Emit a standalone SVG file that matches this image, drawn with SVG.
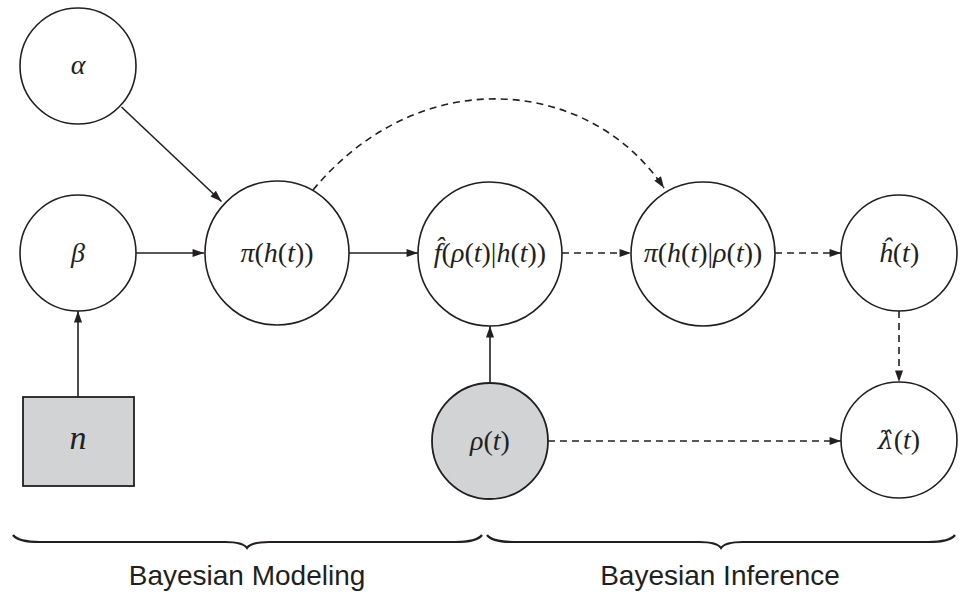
<svg xmlns="http://www.w3.org/2000/svg" width="960" height="594" viewBox="0 0 960 594">
<defs>
<style>
.n{fill:#ffffff;stroke:#231f20;stroke-width:1.6}
.g{fill:#d1d3d4;stroke:#231f20;stroke-width:1.8}
.m{font-family:"Liberation Serif","DejaVu Serif",serif;font-size:28px;fill:#231f20;text-anchor:middle}
.i{font-style:italic}
.dj{font-family:"DejaVu Serif",serif;font-size:25px}
.e{stroke:#231f20;stroke-width:1.6;fill:none}
.d{stroke-dasharray:7 5}
.b{stroke:#231f20;stroke-width:2.2;fill:none}
.lab{font-family:"Liberation Sans",Arial,sans-serif;font-size:28px;fill:#231f20;text-anchor:middle}
</style>
<marker id="ah" viewBox="0 0 10 7" refX="10" refY="3.5" markerWidth="12" markerHeight="8" markerUnits="userSpaceOnUse" orient="auto">
<path d="M0,0 L10,3.5 L0,7 z" fill="#231f20"/>
</marker>
</defs>
<rect width="960" height="594" fill="#ffffff"/>

<g id="connectors">
<line class="e" x1="121.5" y1="107" x2="221.5" y2="201.5" marker-end="url(#ah)"/>
<line class="e" x1="136" y1="253" x2="204" y2="253" marker-end="url(#ah)"/>
<line class="e" x1="78" y1="397" x2="78" y2="311" marker-end="url(#ah)"/>
<line class="e" x1="349" y1="253" x2="418" y2="253" marker-end="url(#ah)"/>
<line class="e" x1="490" y1="383" x2="490" y2="326" marker-end="url(#ah)"/>
<line class="e d" x1="562" y1="253" x2="631" y2="253" marker-end="url(#ah)"/>
<line class="e d" x1="775" y1="253" x2="841" y2="253" marker-end="url(#ah)"/>
<line class="e d" x1="899" y1="311" x2="899" y2="382" marker-end="url(#ah)"/>
<line class="e d" x1="548" y1="441" x2="841" y2="441" marker-end="url(#ah)"/>
<path class="e d" d="M313,190 C421.8,59 591.7,79 664,188" marker-end="url(#ah)"/>
</g>

<g id="alpha">
<circle class="n" cx="78" cy="66" r="58"/>
<text class="m i" x="78" y="74">α</text>
</g>
<g id="beta">
<circle class="n" cx="78" cy="253" r="58"/>
<text class="m i" x="78" y="262">β</text>
</g>
<g id="n">
<rect class="g" x="23" y="397" width="111" height="89"/>
<text class="m i" x="78" y="449" style="font-size:34px">n</text>
</g>
<g id="prior">
<circle class="n" cx="277" cy="253" r="72"/>
<text class="m" x="277" y="262"><tspan class="i">π</tspan>(<tspan class="i">h</tspan>(<tspan class="i">t</tspan>))</text>
</g>
<g id="likelihood">
<circle class="n" cx="490" cy="254" r="72"/>
<text class="m" x="490" y="262"><tspan class="i">f̂</tspan>(<tspan class="i">ρ</tspan>(<tspan class="i">t</tspan>)|<tspan class="i">h</tspan>(<tspan class="i">t</tspan>))</text>
</g>
<g id="posterior">
<circle class="n" cx="703" cy="254" r="72"/>
<text class="m" x="703" y="262"><tspan class="i">π</tspan>(<tspan class="i">h</tspan>(<tspan class="i">t</tspan>)|<tspan class="i">ρ</tspan>(<tspan class="i">t</tspan>))</text>
</g>
<g id="hhat">
<circle class="n" cx="899" cy="253" r="58"/>
<text class="m" x="899" y="262"><tspan class="i">ĥ</tspan>(<tspan class="i">t</tspan>)</text>
</g>
<g id="rho">
<circle class="g" cx="490" cy="441" r="58"/>
<text class="m" x="490" y="450"><tspan class="i">ρ</tspan>(<tspan class="i">t</tspan>)</text>
</g>
<g id="lambdahat">
<circle class="n" cx="899" cy="440" r="58"/>
<text class="m" x="899" y="449"><tspan class="i dj">λ̂</tspan>(<tspan class="i">t</tspan>)</text>
</g>

<g id="braces">
<path class="b" d="M13,535 Q18,542 40,542 L225,542 Q243,542 247,548 Q251,542 269,542 L455,542 Q477,542 482,535"/>
<path class="b" d="M487,535 Q492,542 514,542 L699,542 Q717,542 721,548 Q725,542 743,542 L928,542 Q950,542 955,535"/>
</g>
<text class="lab" x="247" y="585">Bayesian Modeling</text>
<text class="lab" x="720" y="585">Bayesian Inference</text>
</svg>
